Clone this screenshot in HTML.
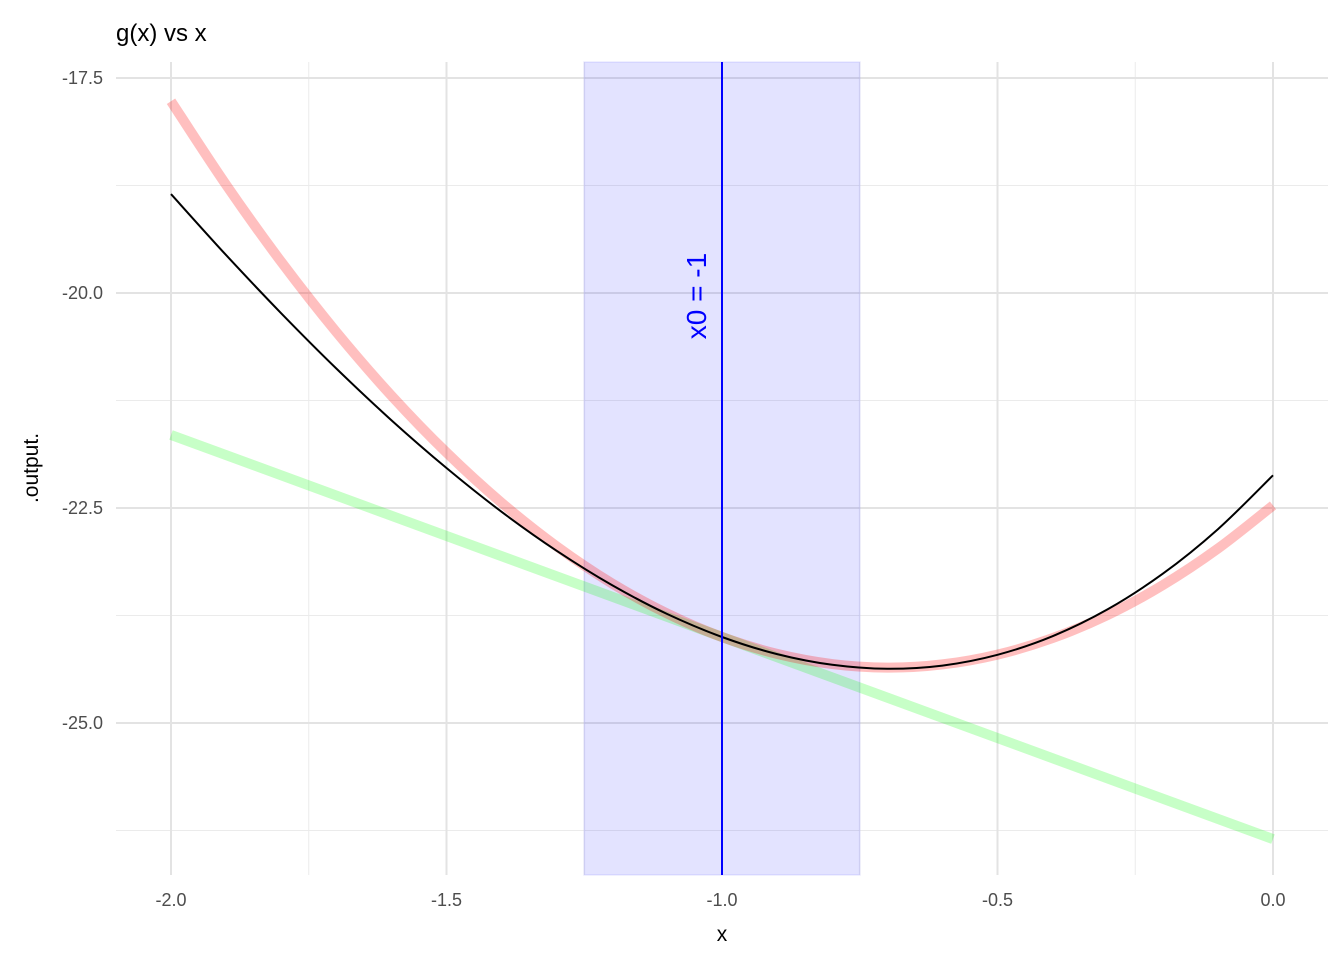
<!DOCTYPE html>
<html><head><meta charset="utf-8"><style>
body{margin:0;background:#fff;}
svg{font-family:"Liberation Sans",Arial,sans-serif;}
</style></head><body>
<svg id="chart" width="1344" height="960">
<g id="grid"></g>
<g id="marks"></g>
<g id="axes"></g>
<text x="116" y="41" font-size="24" fill="#000">g(x) vs x</text>
<text x="722" y="941" font-size="21" text-anchor="middle" fill="#000">x</text>
<text transform="translate(38,468) rotate(-90)" font-size="21" text-anchor="middle" fill="#000">.output.</text>
</svg>
<script>
const xTicks=[-2,-1.5,-1,-0.5,0];
const xTickLabels=["-2.0","-1.5","-1.0","-0.5","0.0"];
const xMinor=[-1.75,-1.25,-0.75,-0.25];
const yTicks=[-17.5,-20,-22.5,-25];
const yTickLabels=["-17.5","-20.0","-22.5","-25.0"];
const yMinor=[-18.75,-21.25,-23.75,-26.25];
const curveX=[-2,-1.9,-1.8,-1.7,-1.6,-1.5,-1.4,-1.3,-1.2,-1.1,-1,-0.9,-0.8,-0.7,-0.6,-0.5,-0.4,-0.3,-0.2,-0.1,0];
const gValues=[-18.85,-19.559,-20.236,-20.878,-21.479,-22.035,-22.544,-22.998,-23.395,-23.731,-24,-24.199,-24.323,-24.37,-24.332,-24.207,-23.991,-23.678,-23.264,-22.747,-22.12];
const quadValues=[-17.77,-18.742,-19.637,-20.454,-21.193,-21.855,-22.439,-22.946,-23.375,-23.726,-24,-24.196,-24.315,-24.356,-24.319,-24.205,-24.013,-23.744,-23.397,-22.972,-22.47];
const linX=[-2,0];
const linValues=[-21.65,-26.35];
const x0=-1;
const band=[-1.25,-0.75];

const X=v=>171+(v+2)*551;
const Y=v=>78+(-17.5-v)*86;
const NS="http://www.w3.org/2000/svg";
function mk(parent,tag,attrs){const e=document.createElementNS(NS,tag);for(const k in attrs)e.setAttribute(k,attrs[k]);document.getElementById(parent).appendChild(e);return e;}
const pTop=62,pBot=875,pLeft=116,pRight=1328;
yMinor.forEach(v=>{const e=mk('grid','line',{x1:pLeft,x2:pRight,y1:Y(v),y2:Y(v),stroke:'#ebebeb','stroke-width':1});

});
xMinor.forEach(v=>{const e=mk('grid','line',{x1:X(v),x2:X(v),y1:pTop,y2:pBot,stroke:'#ebebeb','stroke-width':1});

});
yTicks.forEach((v,i)=>{const e=mk('grid','line',{x1:pLeft,x2:pRight,y1:Y(v),y2:Y(v),stroke:'#e3e3e3','stroke-width':2});


const t=mk('axes','text',{x:103,y:Y(v)+6,'font-size':18,'text-anchor':'end',fill:'#4d4d4d'});t.textContent=yTickLabels[i];

});
xTicks.forEach((v,i)=>{const e=mk('grid','line',{x1:X(v),x2:X(v),y1:pTop,y2:pBot,stroke:'#e3e3e3','stroke-width':2});


const t=mk('axes','text',{x:X(v),y:906,'font-size':18,'text-anchor':'middle',fill:'#4d4d4d'});t.textContent=xTickLabels[i];

});
const bandRect=mk('marks','rect',{x:X(band[0]),y:pTop,width:X(band[1])-X(band[0]),height:pBot-pTop,fill:'rgba(0,0,255,0.11)',stroke:'rgba(0,0,255,0.06)','stroke-width':2});


function path(xs,ys){
  const p=xs.map((x,i)=>[X(x),Y(ys[i])]);
  if(p.length<3) return 'M'+p.map(q=>q[0].toFixed(1)+','+q[1].toFixed(1)).join(' L');
  let d='M'+p[0][0].toFixed(1)+','+p[0][1].toFixed(1);
  for(let i=0;i<p.length-1;i++){
    const a=p[i-1]||p[i],b=p[i],c=p[i+1],e=p[i+2]||c;
    const c1=[b[0]+(c[0]-a[0])/6,b[1]+(c[1]-a[1])/6];
    const c2=[c[0]-(e[0]-b[0])/6,c[1]-(e[1]-b[1])/6];
    d+=` C${c1[0].toFixed(1)},${c1[1].toFixed(1)} ${c2[0].toFixed(1)},${c2[1].toFixed(1)} ${c[0].toFixed(1)},${c[1].toFixed(1)}`;
  }
  return d;
}
const linPath=mk('marks','path',{d:path(linX,linValues),stroke:'rgba(0,255,0,0.22)','stroke-width':10,fill:'none'});


const quadPath=mk('marks','path',{d:path(curveX,quadValues),stroke:'rgba(255,0,0,0.25)','stroke-width':10,fill:'none','stroke-linejoin':'round'});


const gPath=mk('marks','path',{d:path(curveX,gValues),stroke:'#000','stroke-width':2,fill:'none','stroke-linejoin':'round'});


const vLine=mk('marks','line',{x1:X(x0),x2:X(x0),y1:pTop,y2:pBot,stroke:'#0000ff','stroke-width':2});


const vLabel=mk('marks','text',{transform:`translate(${X(x0)-16},296) rotate(-90)`,'font-size':28,'text-anchor':'middle',fill:'#0000ff'});
vLabel.textContent='x0 = -1';


</script>
</body></html>
